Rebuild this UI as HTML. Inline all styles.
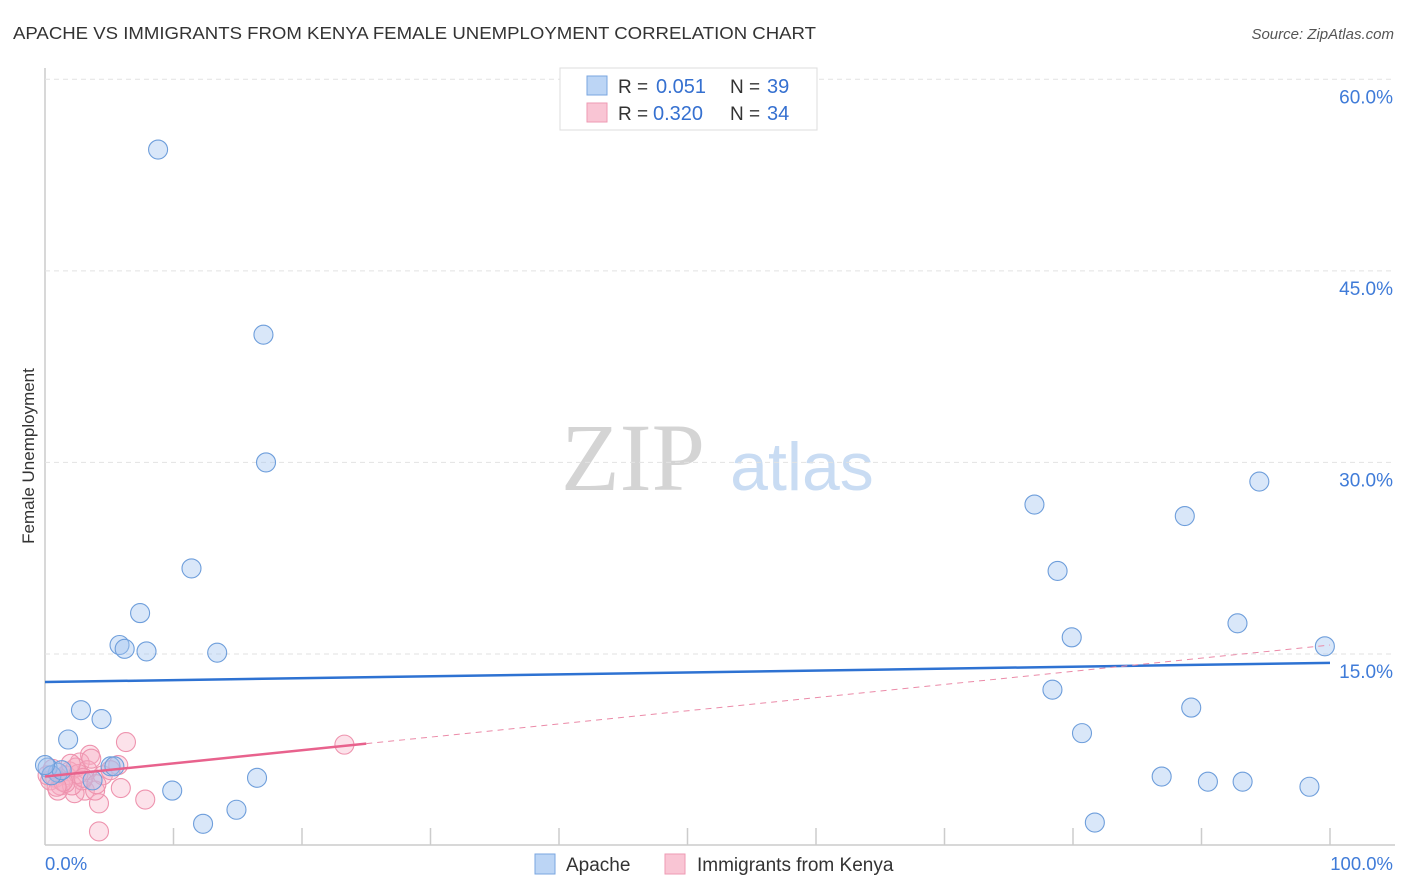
<!DOCTYPE html>
<html><head><meta charset="utf-8"><style>
body{margin:0;background:#fff;font-family:"Liberation Sans",sans-serif;}
svg{display:block}
</style></head><body>
<svg id="chart" width="1406" height="892">
<text x="13" y="39" font-size="17.5" fill="#333" textLength="803" lengthAdjust="spacingAndGlyphs">APACHE VS IMMIGRANTS FROM KENYA FEMALE UNEMPLOYMENT CORRELATION CHART</text>
<text x="1394" y="39" font-size="15" fill="#555" font-style="italic" text-anchor="end">Source: ZipAtlas.com</text>
<text x="633" y="490" font-size="96" fill="#d4d4d4" font-family="Liberation Serif,serif" text-anchor="middle">ZIP</text>
<text x="802" y="490" font-size="68" fill="#c9dcf3" text-anchor="middle">atlas</text>
<text transform="translate(34,456) rotate(-90)" font-size="17" fill="#333" text-anchor="middle">Female Unemployment</text>
<g id="grid"></g><g id="pts"></g><g id="lines"></g>
<g>
<rect x="560" y="68" width="257" height="62" fill="#fff" stroke="#ddd"/>
<rect x="587" y="76" width="20" height="19" fill="#bcd5f5" stroke="#7aa6e0"/>
<rect x="587" y="103" width="20" height="19" fill="#f9c5d4" stroke="#ee9ab3"/>
<text x="618" y="93" font-size="19" fill="#333">R =</text>
<text x="656" y="93" font-size="20" fill="#3570d0">0.051</text>
<text x="730" y="93" font-size="19" fill="#333">N =</text>
<text x="767" y="93" font-size="20" fill="#3570d0">39</text>
<text x="618" y="120" font-size="19" fill="#333">R =</text>
<text x="653" y="120" font-size="20" fill="#3570d0">0.320</text>
<text x="730" y="120" font-size="19" fill="#333">N =</text>
<text x="767" y="120" font-size="20" fill="#3570d0">34</text>
</g>
<g>
<rect x="535" y="854" width="20" height="20" fill="#bcd5f5" stroke="#7aa6e0"/>
<text x="566" y="871" font-size="19" fill="#333">Apache</text>
<rect x="665" y="854" width="20" height="20" fill="#f9c5d4" stroke="#ee9ab3"/>
<text x="697" y="871" font-size="19" fill="#333">Immigrants from Kenya</text>
</g>
<text x="45" y="870" font-size="18.5" fill="#3f7bd8">0.0%</text>
<text x="1393" y="870" font-size="18.5" fill="#3f7bd8" text-anchor="end">100.0%</text>
</svg>
<script>
const yTicks=[15,30,45,60];
const yTickLabels=["15.0%","30.0%","45.0%","60.0%"];
const xTicks=[10,20,30,40,50,60,70,80,90,100];
const apacheX=[8.8,17.0,17.2,11.4,7.4,5.8,6.2,7.9,13.4,2.8,4.4,1.8,5.1,5.4,3.7,1.0,0.2,0.5,1.3,16.5,9.9,14.9,12.3,77.0,78.8,79.9,78.4,80.7,81.7,86.9,88.7,89.2,90.5,92.8,93.2,94.5,98.4,99.6,0.0];
const apacheY=[54.5,40.0,30.0,21.7,18.2,15.7,15.4,15.2,15.1,10.6,9.9,8.3,6.2,6.2,5.1,5.7,6.1,5.5,5.9,5.3,4.3,2.8,1.7,26.7,21.5,16.3,12.2,8.8,1.8,5.4,25.8,10.8,5.0,17.4,5.0,28.5,4.6,15.6,6.3];
const kenyaX=[23.3,6.3,3.5,5.7,2.7,4.2,7.8,5.9,4.2,3.1,2.3,1.2,1.9,0.8,0.4,1.6,2.9,2.4,3.9,3.3,1.0,0.2,2.1,4.5,5.1,1.6,0.6,2.6,3.6,1.4,0.9,2.0,3.0,4.0];
const kenyaY=[7.9,8.1,7.1,6.3,6.5,3.3,3.6,4.5,1.1,4.3,4.1,4.7,5.8,5.3,5.1,5.5,5.1,6.1,4.3,5.9,4.3,5.5,4.7,5.5,5.9,4.9,6.0,5.6,6.8,5.0,4.6,6.4,5.3,4.8];
const blueTrend=[12.8,14.3];
const pinkTrend=[5.4,15.7];
const pinkSolidEnd=25;
const NS="http://www.w3.org/2000/svg";
const X=v=>45+v*12.85, Y=v=>845.5-v*12.77;
function mk(t,a,p){const e=document.createElementNS(NS,t);for(const k in a)e.setAttribute(k,a[k]);p.appendChild(e);return e;}
const grid=document.getElementById('grid');
mk('line',{x1:45,y1:68,x2:45,y2:845,stroke:'#ccc','stroke-width':1.5},grid);
mk('line',{x1:45,y1:845,x2:1395,y2:845,stroke:'#ccc','stroke-width':1.5},grid);
yTicks.forEach((t,i)=>{
 const l=mk('line',{x1:45,y1:Y(t),x2:1395,y2:Y(t),stroke:'#e2e2e2','stroke-dasharray':'5,4'},grid);
 
 
 const tx=mk('text',{x:1393,y:Y(t)+24,'font-size':19,fill:'#3f7bd8','text-anchor':'end'},grid);
 tx.textContent=yTickLabels[i];
 
 
});
xTicks.forEach(t=>{
 const l=mk('line',{x1:X(t),y1:828,x2:X(t),y2:845,stroke:'#ccc','stroke-width':1.5},grid);
 
 
});
const pts=document.getElementById('pts');
kenyaX.forEach((v,i)=>{
 const c=mk('circle',{cx:X(v),cy:Y(kenyaY[i]),r:9.5,fill:'rgba(247,172,195,0.35)',stroke:'#ee93ae','stroke-width':1.1},pts);
 
 
});
apacheX.forEach((v,i)=>{
 const c=mk('circle',{cx:X(v),cy:Y(apacheY[i]),r:9.5,fill:'rgba(160,195,240,0.4)',stroke:'#6e9edb','stroke-width':1.1},pts);
 
 
});
const lines=document.getElementById('lines');
let b=mk('line',{x1:X(0),y1:Y(blueTrend[0]),x2:X(100),y2:Y(blueTrend[1]),stroke:'#2e72d2','stroke-width':2.5},lines);


const py=x=>pinkTrend[0]+(pinkTrend[1]-pinkTrend[0])*x/100;
let p1=mk('line',{x1:X(0),y1:Y(py(0)),x2:X(pinkSolidEnd),y2:Y(py(pinkSolidEnd)),stroke:'#e8628d','stroke-width':2.5},lines);


let p2=mk('line',{x1:X(pinkSolidEnd),y1:Y(py(pinkSolidEnd)),x2:X(100),y2:Y(py(100)),stroke:'#eb8aa8','stroke-width':1,'stroke-dasharray':'6,5'},lines);


</script>
</body></html>
